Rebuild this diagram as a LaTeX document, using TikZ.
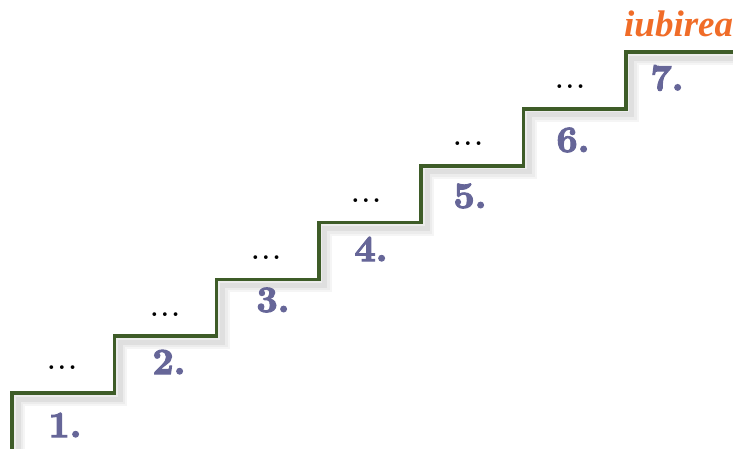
\documentclass[tikz,border=0pt]{standalone}
\usepackage{fontspec}
\newfontfamily\titlefont{Liberation Serif}
\newfontfamily\numfont[FakeBold=3]{lmroman10-bold.otf}
\definecolor{stairgreen}{RGB}{62,92,40}
\definecolor{numblue}{RGB}{102,102,152}
\definecolor{loveorange}{RGB}{240,108,40}
\tikzset{
  num/.style={text=numblue, font=\numfont\fontsize{37}{37}\selectfont, inner sep=0pt},
  dots/.style={text=black, font=\fontsize{26}{26}\selectfont\bfseries, inner sep=0pt},
  stair/.style={draw=stairgreen, line width=3.5pt, line join=miter},
}
\newcommand{\threedots}{.\hspace{2.5pt}.\hspace{2.5pt}.}
\begin{document}
\begin{tikzpicture}[x=1pt,y=-1pt]
\useasboundingbox (0,0) rectangle (733,449);
\def\stairpath{(12,452) -- (12,393) -- (114.3,393) -- (114.3,336.2) -- (216.6,336.2) -- (216.6,279.4) -- (318.9,279.4) -- (318.9,222.6) -- (421.2,222.6) -- (421.2,165.8) -- (523.5,165.8) -- (523.5,109) -- (625.8,109) -- (625.8,52.2) -- (740,52.2)}
% shadow
\begin{scope}[shift={(6,6)}]
\draw[gray!8, line width=14pt] \stairpath;
\draw[gray!15, line width=10pt] \stairpath;
\draw[gray!25, line width=5pt] \stairpath;
\end{scope}
\draw[stair] \stairpath;
\node[num] (n1) at (65,425) {1.};
\node[num] (n2) at (169,362) {2.};
\node[num] (n3) at (273,300) {3.};
\node[num] (n4) at (371,249) {4.};
\node[num] (n5) at (470,196) {5.};
\node[num] (n6) at (573,140) {6.};
\node[num] (n7) at (667,78) {7.};
\node[dots] (d1) at (62,368) {\threedots};
\node[dots] (d2) at (165,315) {\threedots};
\node[dots] (d3) at (266,258) {\threedots};
\node[dots] (d4) at (366,201) {\threedots};
\node[dots] (d5) at (468,144) {\threedots};
\node[dots] (d6) at (570,87) {\threedots};
\node[anchor=base west, inner sep=0pt, text=loveorange, font=\titlefont\fontsize{37}{37}\selectfont\bfseries\itshape] (love) at (624,37) {iubirea};
\end{tikzpicture}
\end{document}
